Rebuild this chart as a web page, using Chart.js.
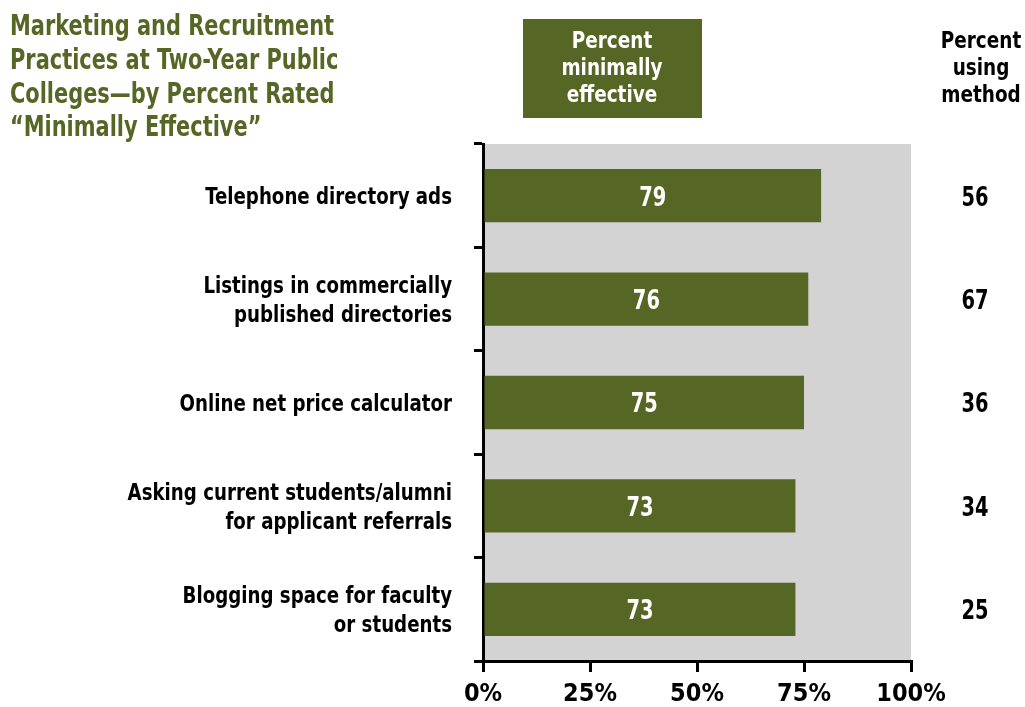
<!DOCTYPE html>
<html>
<head>
<meta charset="utf-8">
<script src="https://cdn.jsdelivr.net/npm/chart.js@4"></script>
<style>
  html, body { margin: 0; padding: 0; background: #fff; }
  #wrap { position: relative; width: 1025px; height: 707px; }
</style>
</head>
<body>
<div id="wrap"><canvas id="practicesCanvas" width="1025" height="707"></canvas></div>
<script>
const practices = [
    'Telephone directory ads',
    ['Listings in commercially', 'published directories'],
    'Online net price calculator',
    ['Asking current students/alumni', 'for applicant referrals'],
    ['Blogging space for faculty', 'or students']
];
const minimallyEffective = [79, 76, 75, 73, 73];
const usingMethod = [56, 67, 36, 34, 25];
const xTicks = [0, 25, 50, 75, 100];
const titleLines = [
    'Marketing and Recruitment',
    'Practices at Two-Year Public',
    'Colleges\u2014by Percent Rated',
    '\u201cMinimally Effective\u201d'
];
const barHeader = ['Percent', 'minimally', 'effective'];
const sideHeader = ['Percent', 'using', 'method'];

const FONT = "'Liberation Sans Narrow', 'DejaVu Sans Condensed', Arial, sans-serif";
const OLIVE = '#566625';

// bold text squeezed horizontally, positioned by the middle of its capitals
function narrowText(ctx, str, x, capMid, size, align, sx, color) {
    ctx.save();
    ctx.font = 'bold ' + size + 'px ' + FONT;
    ctx.fillStyle = color;
    ctx.textAlign = align;
    ctx.textBaseline = 'alphabetic';
    ctx.translate(x, capMid + size * 0.365);
    ctx.scale(sx, 1);
    ctx.fillText(str, 0, 0);
    ctx.restore();
}

const decorations = {
    id: 'decorations',
    beforeDraw(chart) {
        const { ctx, chartArea } = chart;
        ctx.save();
        ctx.fillStyle = '#d4d3d4';
        ctx.fillRect(chartArea.left, chartArea.top, chartArea.right - chartArea.left, chartArea.bottom - chartArea.top);
        ctx.restore();
    },
    afterDatasetsDraw(chart) {
        const { ctx } = chart;
        const yScale = chart.scales.y;
        const meta = chart.getDatasetMeta(0);

        titleLines.forEach((line, i) => narrowText(ctx, line, 10, 25 + i * 33.7, 28, 'left', 0.83, OLIVE));

        ctx.save();
        ctx.fillStyle = OLIVE;
        ctx.fillRect(523, 19, 179, 99);
        ctx.restore();
        barHeader.forEach((line, i) => narrowText(ctx, line, 612, 40 + i * 27, 23, 'center', 0.89, '#fff'));
        sideHeader.forEach((line, i) => narrowText(ctx, line, 981, 40 + i * 27, 23, 'center', 0.89, '#000'));

        // category labels left of the axis
        practices.forEach((label, i) => {
            const lines = Array.isArray(label) ? label : [label];
            const yc = yScale.getPixelForValue(i);
            lines.forEach((line, j) => {
                narrowText(ctx, line, 452, yc + (j - (lines.length - 1) / 2) * 29, 23, 'right', 0.88, '#000');
            });
        });

        // values inside bars and in the right column
        meta.data.forEach((bar, i) => {
            narrowText(ctx, String(minimallyEffective[i]), (bar.x + bar.base) / 2, bar.y, 27, 'center', 0.8, '#fff');
            narrowText(ctx, String(usingMethod[i]), 975, bar.y, 27, 'center', 0.8, '#000');
        });
    }
};

new Chart(document.getElementById('practicesCanvas').getContext('2d'), {
    type: 'bar',
    data: {
        labels: practices,
        datasets: [{
            data: minimallyEffective,
            backgroundColor: OLIVE,
            categoryPercentage: 1,
            barPercentage: 0.515
        }]
    },
    options: {
        indexAxis: 'y',
        responsive: false,
        animation: false,
        devicePixelRatio: 1,
        layout: { padding: { top: 144, right: 114, left: 0, bottom: 0 } },
        plugins: {
            legend: { display: false },
            tooltip: { enabled: false }
        },
        scales: {
            x: {
                min: 0,
                max: 100,
                afterBuildTicks(scale) {
                    scale.ticks = xTicks.map(v => ({ value: v }));
                },
                afterFit(scale) { scale.height = 46; },
                ticks: {
                    color: '#000',
                    font: { family: FONT, size: 25, weight: 'bold' },
                    padding: 7,
                    maxRotation: 0,
                    callback: v => v + '%'
                },
                grid: {
                    drawOnChartArea: false,
                    drawTicks: true,
                    tickLength: 11,
                    color: '#000',
                    lineWidth: 3
                },
                border: { color: '#000', width: 3 }
            },
            y: {
                afterFit(scale) { scale.width = 483; },
                ticks: { display: false },
                grid: {
                    offset: true,
                    drawOnChartArea: false,
                    drawTicks: true,
                    tickLength: 9,
                    color: '#000',
                    lineWidth: 3
                },
                border: { color: '#000', width: 3 }
            }
        }
    },
    plugins: [decorations]
});
</script>
</body>
</html>
